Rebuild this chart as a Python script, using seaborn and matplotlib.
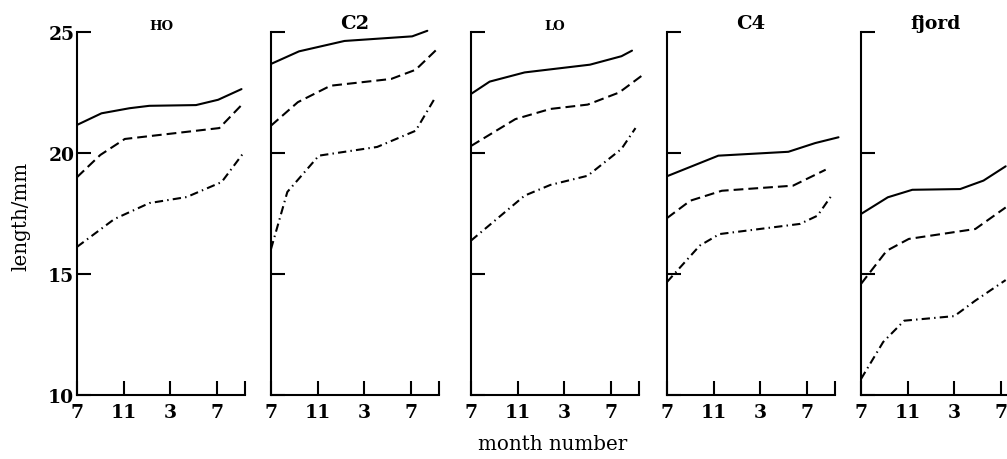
import matplotlib
matplotlib.use("Agg")
import matplotlib.pyplot as plt
import numpy as np
import pandas as pd
import seaborn as sns

# ---- data (month index 0 = July of first year) ----
stations = ["HO", "C2", "LO", "C4", "fjord"]
month_ticks = [0, 4, 8, 12]
month_labels = ["7", "11", "3", "7"]
length_ticks = [10, 15, 20, 25]

ho_upper_m = [0, 2.1, 4.5, 6.2, 10.2, 12.1, 14.1]
ho_upper_l = [21.16, 21.64, 21.85, 21.95, 21.98, 22.2, 22.64]
ho_middle_m = [0, 2.0, 4.1, 12.2, 14.1]
ho_middle_l = [19.0, 19.92, 20.58, 21.03, 21.98]
ho_lower_m = [0, 3.2, 6.2, 9.4, 12.4, 14.2]
ho_lower_l = [16.12, 17.27, 17.93, 18.18, 18.8, 19.96]

c2_upper_m = [0, 2.4, 6.3, 12.1, 13.4]
c2_upper_l = [23.68, 24.2, 24.63, 24.82, 25.05]
c2_middle_m = [0, 2.3, 5.1, 10.3, 12.4, 14.4]
c2_middle_l = [21.13, 22.1, 22.78, 23.06, 23.44, 24.37]
c2_lower_m = [0, 1.4, 4.1, 9.1, 12.4, 14.1]
c2_lower_l = [16.03, 18.39, 19.89, 20.25, 20.92, 22.31]

lo_upper_m = [0, 1.6, 4.6, 10.2, 12.9, 13.8]
lo_upper_l = [22.44, 22.95, 23.33, 23.65, 24.0, 24.23]
lo_middle_m = [0, 3.8, 6.8, 10.0, 12.7, 14.6]
lo_middle_l = [20.29, 21.4, 21.82, 22.0, 22.5, 23.18]
lo_lower_m = [0, 4.6, 6.8, 10.0, 12.9, 14.1]
lo_lower_l = [16.38, 18.24, 18.68, 19.06, 20.17, 21.03]

c4_upper_m = [0, 4.4, 10.4, 12.7, 14.7]
c4_upper_l = [19.04, 19.89, 20.05, 20.41, 20.65]
c4_middle_m = [0, 2.0, 4.7, 10.8, 13.6]
c4_middle_l = [17.31, 18.03, 18.44, 18.65, 19.31]
c4_lower_m = [0, 2.8, 4.5, 11.4, 12.9, 14.2]
c4_lower_l = [14.67, 16.17, 16.65, 17.07, 17.41, 18.31]

fjord_upper_m = [0, 2.3, 4.4, 8.5, 10.5, 12.4]
fjord_upper_l = [17.48, 18.17, 18.48, 18.51, 18.86, 19.45]
fjord_middle_m = [0, 2.2, 4.1, 9.8, 12.4]
fjord_middle_l = [14.59, 15.96, 16.45, 16.86, 17.75]
fjord_lower_m = [0, 1.9, 3.7, 8.0, 9.8, 12.4]
fjord_lower_l = [10.66, 12.19, 13.07, 13.26, 13.9, 14.75]

series_data = {
    "HO": {"upper": (ho_upper_m, ho_upper_l), "middle": (ho_middle_m, ho_middle_l), "lower": (ho_lower_m, ho_lower_l)},
    "C2": {"upper": (c2_upper_m, c2_upper_l), "middle": (c2_middle_m, c2_middle_l), "lower": (c2_lower_m, c2_lower_l)},
    "LO": {"upper": (lo_upper_m, lo_upper_l), "middle": (lo_middle_m, lo_middle_l), "lower": (lo_lower_m, lo_lower_l)},
    "C4": {"upper": (c4_upper_m, c4_upper_l), "middle": (c4_middle_m, c4_middle_l), "lower": (c4_lower_m, c4_lower_l)},
    "fjord": {"upper": (fjord_upper_m, fjord_upper_l), "middle": (fjord_middle_m, fjord_middle_l), "lower": (fjord_lower_m, fjord_lower_l)},
}

rows = []
for st, d in series_data.items():
    for ser, (ms, ls) in d.items():
        for m, l in zip(ms, ls):
            rows.append({"station": st, "series": ser, "month": m, "length": l})
df = pd.DataFrame(rows)

# ---- style ----
sns.set_theme(style="ticks")
plt.rcParams["font.family"] = ["DejaVu Serif"]
plt.rcParams["axes.linewidth"] = 1.5
plt.rcParams["text.color"] = "black"

W, H = 1007, 460
fig = plt.figure(figsize=(W / 100, H / 100), dpi=100)

lefts = [77, 271, 471, 667, 861]
ax_w = 168
bottom_px = 396
top_px = 33
xmax = 14.4

title_style = {
    "HO": dict(fontsize=9.5, fontweight="bold", x=0.5),
    "C2": dict(fontsize=14, fontweight="bold", x=0.5),
    "LO": dict(fontsize=9.5, fontweight="bold", x=0.5),
    "C4": dict(fontsize=14, fontweight="bold", x=0.5),
    "fjord": dict(fontsize=13.5, fontweight="bold", x=0.446),
}

dash_map = {"upper": "", "middle": (4.7, 2.4), "lower": (4.0, 2.0, 0.7, 2.0)}

for i, st in enumerate(stations):
    ax = fig.add_axes([lefts[i] / W, (H - bottom_px) / H, ax_w / W, (bottom_px - top_px) / H])
    sub = df[df["station"] == st]
    sns.lineplot(data=sub, x="month", y="length", style="series",
                 style_order=["upper", "middle", "lower"], dashes=dash_map,
                 color="black", linewidth=1.5, estimator=None, sort=False,
                 legend=False, ax=ax, clip_on=False)
    ax.set_xlim(0, xmax)
    ax.set_ylim(10, 25)
    for s in ["top", "right"]:
        ax.spines[s].set_visible(False)
    for s in ["left", "bottom"]:
        ax.spines[s].set_color("black")
        ax.spines[s].set_linewidth(1.5)
    ax.set_xticks(month_ticks + [xmax])
    ax.set_xticklabels(month_labels + [""], fontsize=13.5, fontweight="bold")
    ax.set_yticks(length_ticks)
    if i == 0:
        ax.set_yticklabels([str(v) for v in length_ticks], fontsize=13.5, fontweight="bold")
    else:
        ax.set_yticklabels([])
    ax.tick_params(axis="both", direction="in", length=10, width=1.5, colors="black")
    ax.tick_params(axis="x", pad=6)
    ax.tick_params(axis="y", pad=2)
    ax.set_xlabel("")
    ax.set_ylabel("")
    ts = dict(title_style[st])
    tx = ts.pop("x")
    ax.set_title(st, pad=2, color="black", x=tx, **ts)
    ax.patch.set_alpha(0)

fig.text(21 / W, 1 - 216 / H, "length/mm", rotation=90, ha="center", va="center",
         fontsize=14.3, color="black")
fig.text(553 / W, 1 - 445 / H, "month number", ha="center", va="center",
         fontsize=14.3, color="black")

fig.savefig("out.png", dpi=100)
